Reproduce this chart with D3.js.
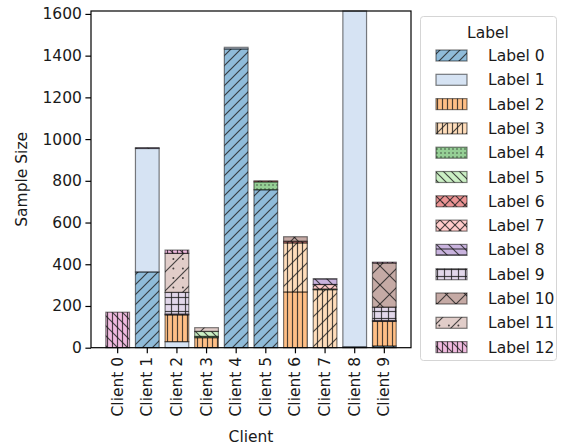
<!DOCTYPE html>
<html>
<head>
<meta charset="utf-8">
<script src="https://cdn.jsdelivr.net/npm/d3@7"></script>
<style>
  html, body { margin: 0; padding: 0; background: #fff; }
  svg text { font-family: "DejaVu Sans", sans-serif; fill: #1a1a1a; }
</style>
</head>
<body>
<svg id="chart" width="567" height="448"></svg>
<script>
// Samples per label held by each client
const clients = ["Client 0","Client 1","Client 2","Client 3","Client 4","Client 5","Client 6","Client 7","Client 8","Client 9"];
const label0  = [0, 363, 0, 0, 1432, 757, 0, 0, 4, 8];
const label1  = [0, 592, 29, 0, 8, 0, 0, 0, 1610, 0];
const label2  = [0, 0, 128, 48, 0, 0, 267, 0, 0, 118];
const label3  = [0, 0, 0, 0, 0, 0, 235, 278, 0, 0];
const label4  = [0, 0, 0, 6, 0, 38, 0, 3, 0, 0];
const label5  = [0, 0, 0, 24, 0, 0, 0, 0, 0, 0];
const label6  = [0, 0, 0, 0, 0, 5, 8, 0, 0, 0];
const label7  = [0, 0, 0, 0, 0, 0, 0, 22, 0, 0];
const label8  = [0, 4, 4, 0, 0, 0, 0, 28, 0, 4];
const label9  = [0, 0, 104, 0, 0, 0, 0, 0, 0, 64];
const label10 = [0, 0, 0, 0, 0, 0, 22, 0, 0, 212];
const label11 = [0, 0, 187, 18, 0, 0, 0, 0, 0, 0];
const label12 = [170, 0, 16, 0, 0, 0, 0, 0, 0, 4];
const seriesNames = ["Label 0","Label 1","Label 2","Label 3","Label 4","Label 5","Label 6","Label 7","Label 8","Label 9","Label 10","Label 11","Label 12"];
const seriesValues = [label0,label1,label2,label3,label4,label5,label6,label7,label8,label9,label10,label11,label12];
const yTicks = [0, 200, 400, 600, 800, 1000, 1200, 1400, 1600];
const yMax = 1614;

// tab20 base colours, drawn at half opacity
const colors = ["#1f77b4","#aec7e8","#ff7f0e","#ffbb78","#2ca02c","#98df8a","#d62728","#ff9896","#9467bd","#c5b0d5","#8c564b","#c49c94","#e377c2"];

const svg = d3.select("#chart");
const m = {left: 91, right: 411, top: 11, bottom: 347.7};

const x = d3.scaleBand().domain(clients).range([m.left, m.right]).paddingInner(0.2).paddingOuter(0.5);
const y = d3.scaleLinear().domain([0, yMax]).range([m.bottom, m.top]);

// Hatch patterns
const defs = svg.append("defs");
const hatchStroke = "rgba(30,30,30,0.8)";
function makePattern(id, size, color, draw) {
  const p = defs.append("pattern").attr("id", id).attr("patternUnits", "userSpaceOnUse")
    .attr("width", size).attr("height", size);
  p.append("rect").attr("width", size).attr("height", size).attr("fill", color).attr("fill-opacity", 0.5);
  const g = p.append("g").attr("stroke", hatchStroke).attr("stroke-width", 1.2).attr("fill", hatchStroke);
  draw(g, size);
}
const fwd = (g, s) => { g.append("path").attr("d", `M0,${s}L${s},0M${-s/2},${s/2}L${s/2},${-s/2}M${s/2},${s*1.5}L${s*1.5},${s/2}`); };
const bwd = (g, s) => { g.append("path").attr("d", `M0,0L${s},${s}M${-s/2},${s/2}L${s/2},${s*1.5}M${s/2},${-s/2}L${s*1.5},${s/2}`); };
const vert = (g, s, n) => { for (let i = 0; i < n; i++) { const xx = (i + 0.5) * s / n; g.append("path").attr("d", `M${xx},0V${s}`); } };
const horiz = (g, s, n) => { for (let i = 0; i < n; i++) { const yy = (i + 0.5) * s / n; g.append("path").attr("d", `M0,${yy}H${s}`); } };
const dots = (g, s, n, r) => { for (let i = 0; i < n; i++) for (let j = 0; j < n; j++) {
  g.append("circle").attr("cx", (i + 0.25) * s / n).attr("cy", (j + 0.25) * s / n).attr("r", r).attr("stroke", "none"); } };

const hatchDraw = [
  [10, (g, s) => fwd(g, s)],
  [10, () => {}],
  [5,  (g, s) => vert(g, s, 1)],
  [15, (g, s) => { vert(g, s, 3); fwd(g, s); }],
  [4,  (g, s) => dots(g, s, 1, 0.75)],
  [8,  (g, s) => bwd(g, s)],
  [10, (g, s) => { fwd(g, s); bwd(g, s); dots(g, s, 1, 0.8); }],
  [10, (g, s) => { fwd(g, s); bwd(g, s); }],
  [12, (g, s) => { horiz(g, s, 2); bwd(g, s); }],
  [7,  (g, s) => { vert(g, s, 1); horiz(g, s, 1); }],
  [19, (g, s) => { fwd(g, s); bwd(g, s); }],
  [19, (g, s) => { fwd(g, s); dots(g, s, 2, 1.0); }],
  [10, (g, s) => { vert(g, s, 2); bwd(g, s); }]
];
hatchDraw.forEach(([s, fn], i) => makePattern("hatch" + i, s, colors[i], fn));

// Stack the series per client
const table = clients.map((c, ci) => {
  const row = {client: c};
  seriesNames.forEach((n, si) => row[n] = seriesValues[si][ci]);
  return row;
});
const stacked = d3.stack().keys(seriesNames)(table);

const bars = svg.append("g");
stacked.forEach((layer, si) => {
  bars.selectAll(null).data(layer.filter(d => d[1] - d[0] > 0)).enter().append("rect")
    .attr("x", d => x(d.data.client))
    .attr("width", x.bandwidth())
    .attr("y", d => y(d[1]))
    .attr("height", d => y(d[0]) - y(d[1]))
    .attr("fill", `url(#hatch${si})`)
    .attr("stroke", "rgba(0,0,0,0.5)")
    .attr("stroke-width", 1.2);
});

// Axes
const yAxis = svg.append("g").attr("transform", `translate(${m.left},0)`)
  .call(d3.axisLeft(y).tickValues(yTicks).tickSize(5.6).tickPadding(3.5).tickFormat(d3.format("d")));
const xAxis = svg.append("g").attr("transform", `translate(0,${m.bottom})`)
  .call(d3.axisBottom(x).tickSize(5.6).tickPadding(3.5));
[yAxis, xAxis].forEach(a => {
  a.select(".domain").remove();
  a.selectAll("line").attr("stroke", "#000").attr("stroke-width", 1.2);
  a.selectAll("text").attr("font-size", 15.5).attr("font-family", "DejaVu Sans, sans-serif").attr("fill", "#1a1a1a");
});
xAxis.selectAll("text")
  .attr("transform", "rotate(-90)")
  .attr("text-anchor", "end")
  .attr("x", -9.1).attr("y", 0).attr("dy", "0.32em");

// Frame
svg.append("rect").attr("x", m.left).attr("y", m.top)
  .attr("width", m.right - m.left).attr("height", m.bottom - m.top)
  .attr("fill", "none").attr("stroke", "#000").attr("stroke-width", 1.2);

// Axis titles
svg.append("text").attr("x", (m.left + m.right) / 2).attr("y", 442).attr("text-anchor", "middle")
  .attr("font-size", 15.5).text("Client");
svg.append("text").attr("transform", `translate(27,${(m.top + m.bottom) / 2}) rotate(-90)`)
  .attr("text-anchor", "middle").attr("font-size", 15.5).text("Sample Size");

// Legend
const lg = svg.append("g");
lg.append("rect").attr("x", 420.5).attr("y", 16.5).attr("width", 136).attr("height", 344)
  .attr("rx", 3).attr("fill", "#fff").attr("stroke", "#d5d5d5").attr("stroke-width", 1);
lg.append("text").attr("x", 488).attr("y", 38).attr("text-anchor", "middle").attr("font-size", 15.5).text("Label");
seriesNames.forEach((n, i) => {
  const cy = 55.5 + i * 24.3;
  lg.append("rect").attr("x", 436).attr("y", cy - 5.5).attr("width", 31).attr("height", 11)
    .attr("fill", `url(#hatch${i})`).attr("stroke", "rgba(0,0,0,0.5)").attr("stroke-width", 1.2);
  lg.append("text").attr("x", 488).attr("y", cy + 5.5).attr("font-size", 15.5).text(n);
});
</script>
</body>
</html>
